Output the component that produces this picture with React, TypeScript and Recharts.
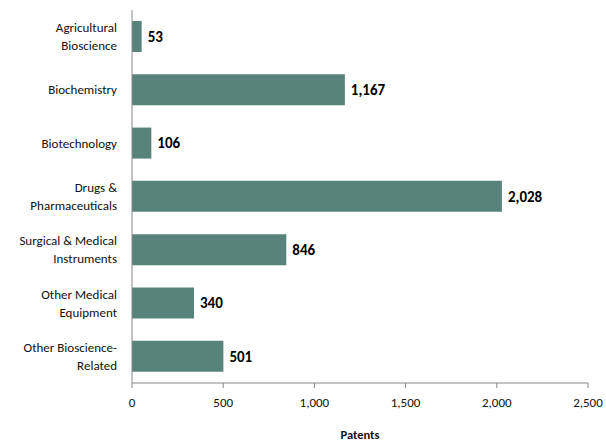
import React from 'react';
import { BarChart, Bar, XAxis, YAxis, LabelList } from 'recharts';

const categories = [
  'Agricultural\nBioscience',
  'Biochemistry',
  'Biotechnology',
  'Drugs &\nPharmaceuticals',
  'Surgical & Medical\nInstruments',
  'Other Medical\nEquipment',
  'Other Bioscience-\nRelated',
];
const patents = [53, 1167, 106, 2028, 846, 340, 501];
const xTicks = [0, 500, 1000, 1500, 2000, 2500];

const data = categories.map((name, i) => ({ name, patents: patents[i] }));

const FONT = 'Carlito, Calibri, Lato, sans-serif';

const CategoryTick = (props: any) => {
  const { x, y, payload } = props;
  const lines = String(payload.value).split('\n');
  const lh = 18;
  const start = -((lines.length - 1) * lh) / 2;
  return (
    <text x={x - 7} y={y} textAnchor="end" fontSize={13} fill="#111" fontFamily={FONT}>
      {lines.map((l: string, i: number) => (
        <tspan key={i} x={x - 7} y={y + start + i * lh} dy="0.35em">{l}</tspan>
      ))}
    </text>
  );
};

const fmt = (v: number) => v.toLocaleString('en-US');

const App = () => {
  return (
    <div style={{ position: 'absolute', left: 0, top: 0, width: 606, height: 441, background: '#fff' }}>
      <BarChart
        width={606}
        height={441}
        data={data}
        layout="vertical"
        margin={{ top: 10, right: 18, bottom: 2, left: 0 }}
      >
        <XAxis
          type="number"
          domain={[0, 2500]}
          ticks={xTicks}
          tickFormatter={fmt}
          stroke="#888"
          tickSize={5}
          tick={{ fill: '#111', fontSize: 13, fontFamily: FONT, dy: 8 }}
          height={56}
          label={{ value: 'Patents', position: 'insideBottom', offset: 0, fill: '#111', fontSize: 12.5, fontWeight: 'bold', fontFamily: FONT }}
        />
        <YAxis
          type="category"
          dataKey="name"
          width={132}
          stroke="#888"
          tickLine={false}
          tick={<CategoryTick />}
        />
        <Bar dataKey="patents" fill="#58837A" barSize={31} isAnimationActive={false}>
          <LabelList
            dataKey="patents"
            position="right"
            offset={6}
            formatter={(v: any) => fmt(Number(v))}
            style={{ fill: '#000', fontSize: 15, fontWeight: 'bold', fontFamily: FONT }}
          />
        </Bar>
      </BarChart>
    </div>
  );
};

export default App;
